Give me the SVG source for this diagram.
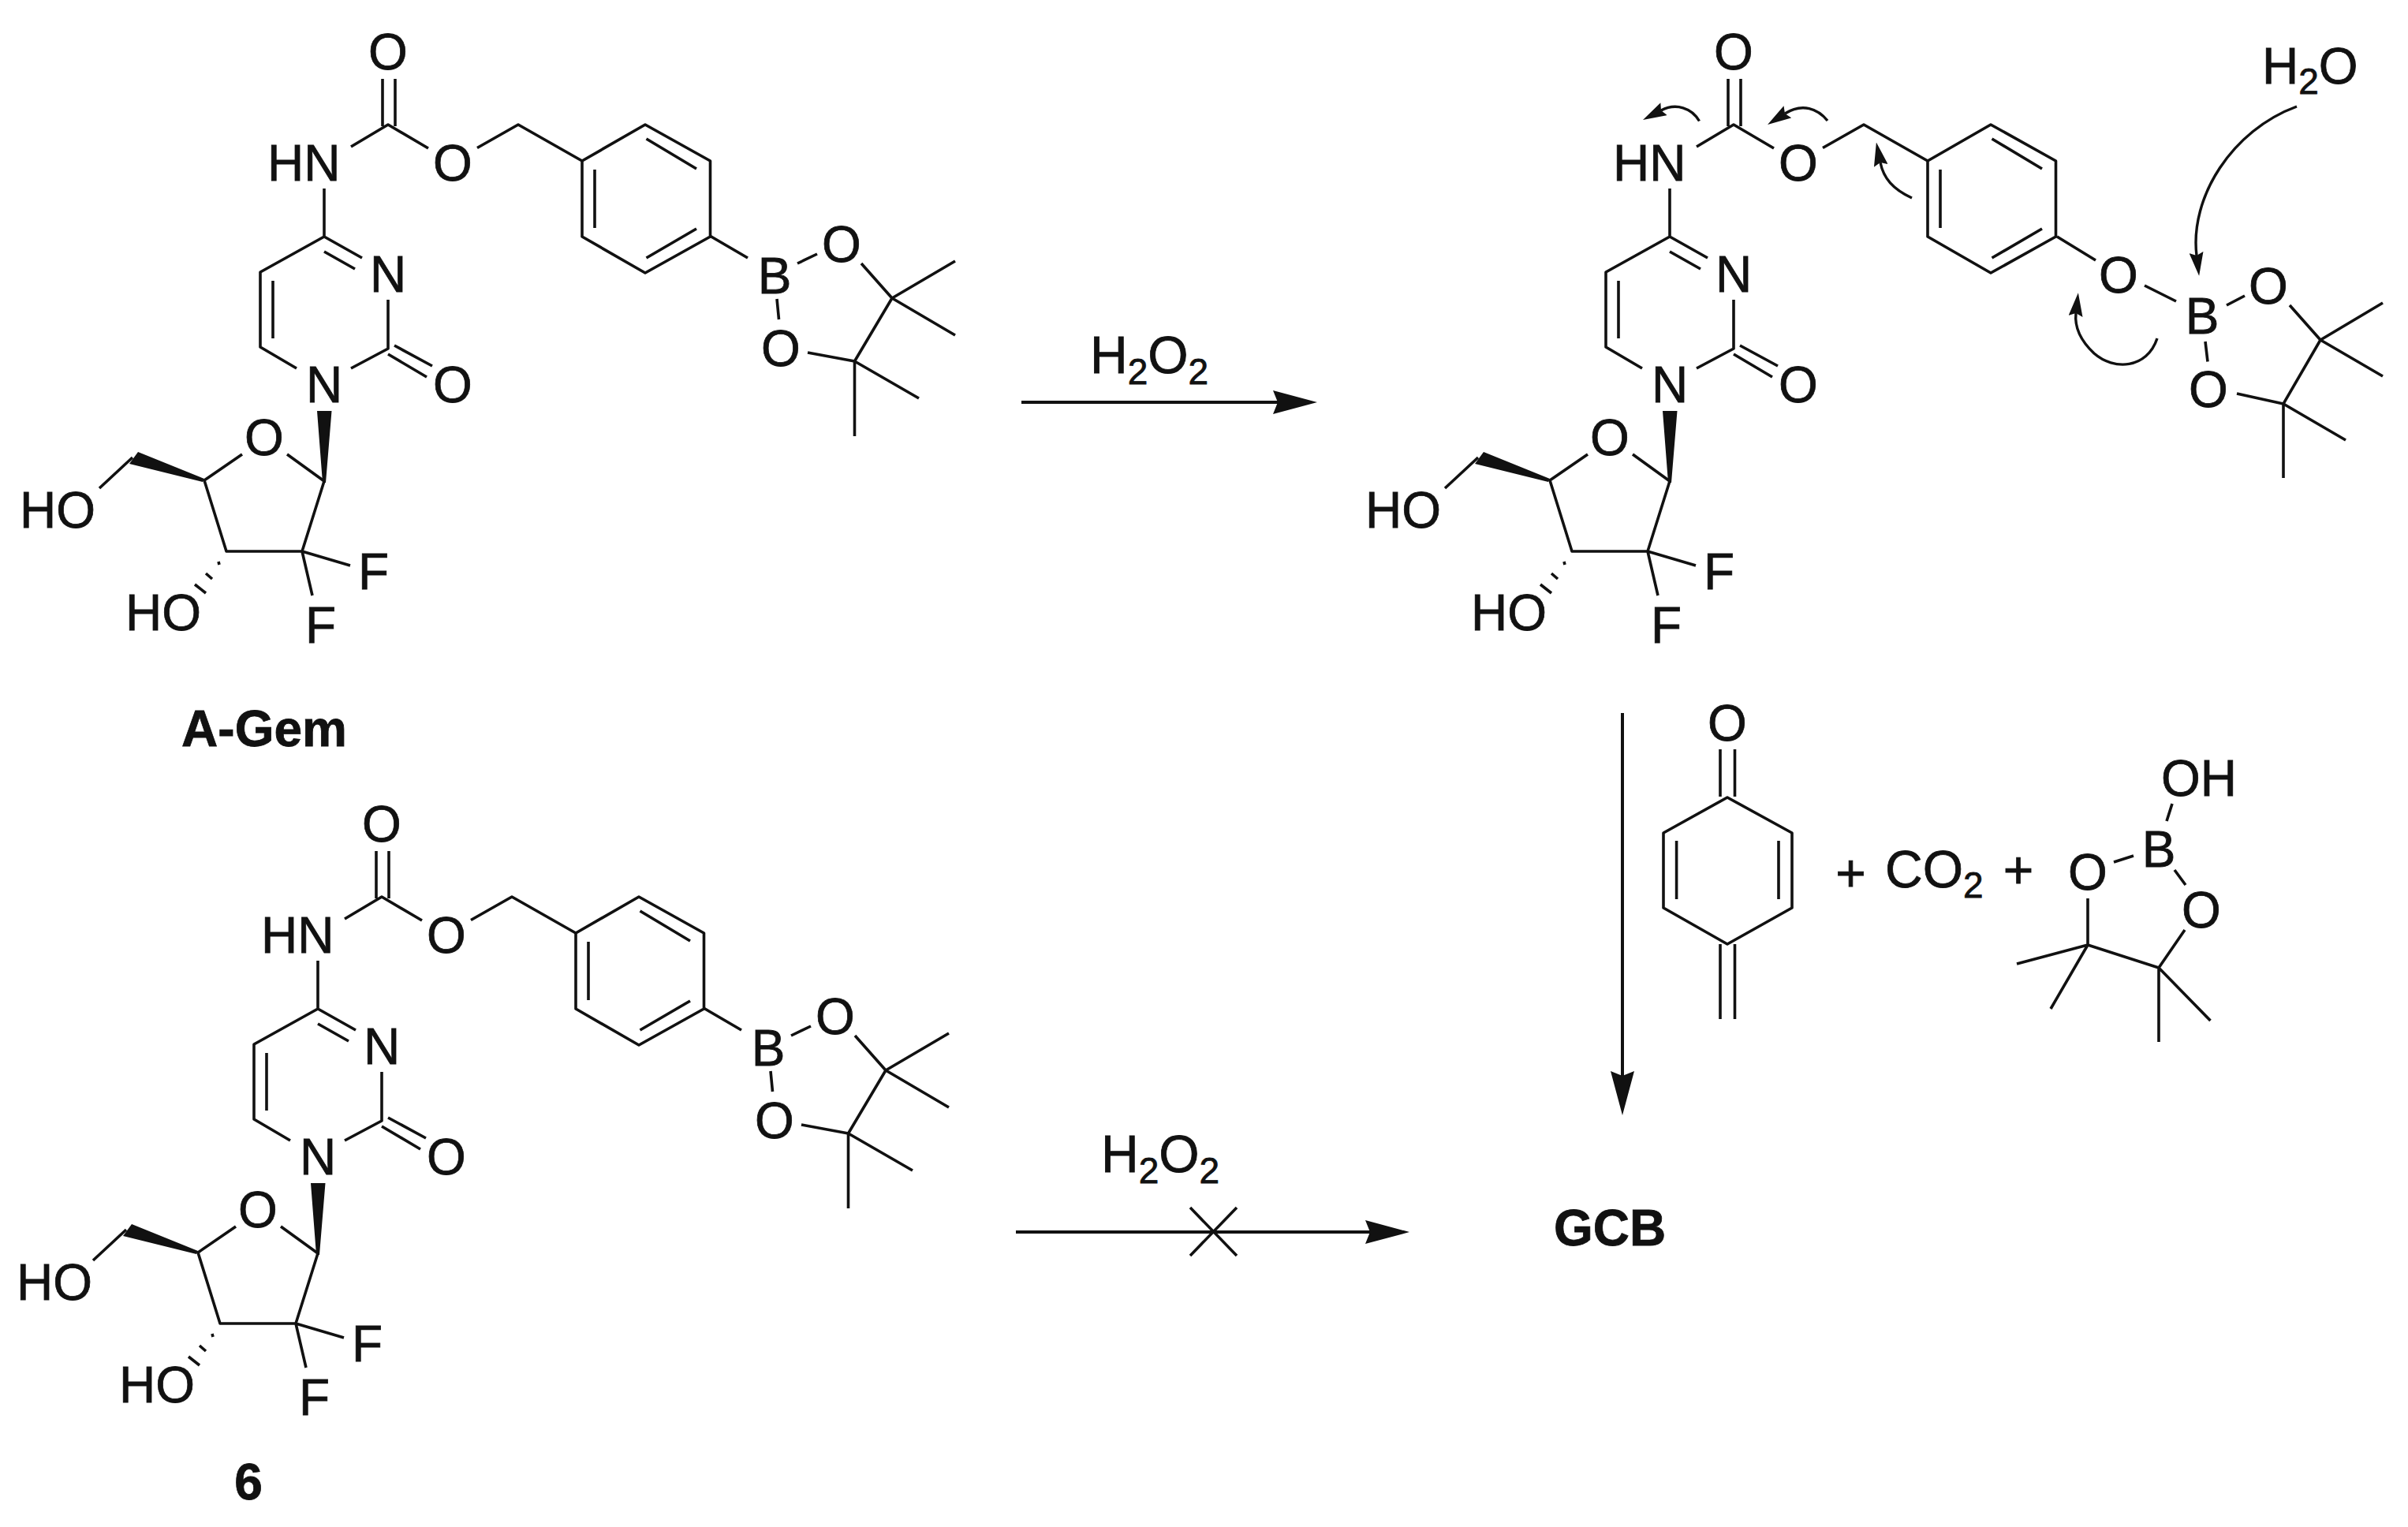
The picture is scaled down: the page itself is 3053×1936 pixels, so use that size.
<svg xmlns="http://www.w3.org/2000/svg" xmlns:xlink="http://www.w3.org/1999/xlink" width="3053" height="1936" viewBox="0 0 3053 1936">
<style>
.b{fill:none;stroke:#111;stroke-width:3.6;stroke-linejoin:round}
.w{fill:#111;stroke:none}
text{font-family:"Liberation Sans",Arial,sans-serif;fill:#111;stroke:#111;stroke-width:.8}
.t{font-size:64px}
.m{text-anchor:middle}
.l{font-size:66px}
.s{font-size:46px}
.lb{font-size:64px;font-weight:bold}
.a{fill:none;stroke:#111;stroke-width:4}
.c{fill:none;stroke:#111;stroke-width:3.4}
</style>
<defs>
<marker id="head" markerUnits="userSpaceOnUse" markerWidth="56" markerHeight="30" refX="6" refY="15" orient="auto"><path d="M0,0L56,15L0,30L6,15Z" fill="#111"/></marker>
<marker id="curl" markerUnits="userSpaceOnUse" markerWidth="30" markerHeight="18" refX="4" refY="9" orient="auto"><path d="M0,0L30,9L0,18L4,9Z" fill="#111"/></marker>
<g id="core">
<path class="b" d="M485,100V160M501,100V160M445,186L492,158L543,188M605,187.5L657,158L738,204L818,158L900.5,204V300L818,346L738,300V204M819.5,176L883,214M754,215V289M819.5,327L883,290M411,239V300L330,345V440L376,467M411,300L459,327M411,319L450,341M492,380V442L445,467M500,438L548,464M492,449L541,478M346,356V429M364,576L411,610L383,699H287L259,609L307,576M126,619L168,580M383,699L444,717M383,699L396,755M277,712L278,716M261,727L269,734M247,741L261,752"/>
<path class="w" d="M402,521H420.5L413,612H409ZM259,607L257,611L164,588L175,573Z"/>
</g>
<g id="pin-ph">
<path class="b" d="M900,299L948,327M1011,334L1036,322M1092,334L1131,378L1211,331M1131,378L1211,425M1131,378L1083.5,458L1024,447M1083.5,458L1165,505M1083.5,458V553M985,379L987.5,405"/>
</g>
</defs>
<g id="connectors">
<path class="a" d="M1295,510H1620" marker-end="url(#head)"/>
<path class="a" d="M1288,1562H1737" marker-end="url(#head)"/>
<path class="a" d="M2057,904V1364" marker-end="url(#head)"/>
<path class="b" d="M1509,1531L1568,1592M1568,1531L1509,1592"/>
<path class="c" d="M2912,135C2830,165 2776,250 2785,324" marker-end="url(#curl)"/>
<path class="c" d="M2735,429C2722,468 2680,470 2655,448C2638,432 2630,415 2632,397" marker-end="url(#curl)"/>
<path class="c" d="M2424,251C2400,240 2388,226 2384,206" marker-end="url(#curl)"/>
<path class="c" d="M2317,153C2305,138 2285,130 2263,144" marker-end="url(#curl)"/>
<path class="c" d="M2154.5,153.5C2145,137 2125,130 2106,140" marker-end="url(#curl)"/>
</g>
<g id="A-Gem">
<use href="#core"/><use href="#pin-ph"/>
<text class="t m" x="492" y="88">O</text>
<text class="t" x="339" y="229">HN</text>
<text class="t m" x="574" y="229">O</text>
<text class="t m" x="492" y="370">N</text>
<text class="t m" x="411" y="510">N</text>
<text class="t m" x="574" y="510">O</text>
<text class="t m" x="335" y="577">O</text>
<text class="t" x="25" y="669">HO</text>
<text class="t" x="159" y="799">HO</text>
<text class="t" x="454" y="747">F</text>
<text class="t" x="387" y="815">F</text>
<text class="t m" x="982" y="372">B</text>
<text class="t m" x="1067" y="332">O</text>
<text class="t m" x="990" y="464">O</text>
<text class="lb m" x="335" y="946">A-Gem</text>
</g>
<g id="compound-6" transform="translate(-8,979)">
<use href="#core"/><use href="#pin-ph"/>
<text class="t m" x="492" y="88">O</text>
<text class="t" x="339" y="229">HN</text>
<text class="t m" x="574" y="229">O</text>
<text class="t m" x="492" y="370">N</text>
<text class="t m" x="411" y="510">N</text>
<text class="t m" x="574" y="510">O</text>
<text class="t m" x="335" y="577">O</text>
<text class="t" x="29" y="669">HO</text>
<text class="t" x="159" y="799">HO</text>
<text class="t" x="454" y="747">F</text>
<text class="t" x="387" y="815">F</text>
<text class="t m" x="982" y="372">B</text>
<text class="t m" x="1067" y="332">O</text>
<text class="t m" x="990" y="464">O</text>
<text class="lb m" x="323" y="922">6</text>
</g>
<g id="intermediate">
<g transform="translate(1706,0)">
<use href="#core"/>
<text class="t m" x="492" y="88">O</text>
<text class="t" x="339" y="229">HN</text>
<text class="t m" x="574" y="229">O</text>
<text class="t m" x="492" y="370">N</text>
<text class="t m" x="411" y="510">N</text>
<text class="t m" x="574" y="510">O</text>
<text class="t m" x="335" y="577">O</text>
<text class="t" x="25" y="669">HO</text>
<text class="t" x="159" y="799">HO</text>
<text class="t" x="454" y="747">F</text>
<text class="t" x="387" y="815">F</text>
</g>
<path class="b" d="M2608,300L2657,330M2719,362L2759,382M2823,387L2846,375M2903,387L2942,431L3021,384M2942,431L3021,477M2942,431L2895,512L2836,499M2895,512L2974,558M2895,512V606M2796,433L2799,458.5"/>
<text class="t m" x="2686" y="371">O</text>
<text class="t m" x="2792" y="423">B</text>
<text class="t m" x="2876" y="385">O</text>
<text class="t m" x="2800" y="516">O</text>
</g>
<g id="water"><text class="t" x="2868" y="106">H<tspan class="s" dy="13">2</tspan><tspan dy="-13">O</tspan></text></g>
<g id="reagent-1"><text class="l" x="1382" y="473">H<tspan class="s" dy="14">2</tspan><tspan dy="-14">O</tspan><tspan class="s" dy="14">2</tspan></text></g>
<g id="reagent-2"><text class="l" x="1396" y="1486">H<tspan class="s" dy="14">2</tspan><tspan dy="-14">O</tspan><tspan class="s" dy="14">2</tspan></text></g>
<g id="GCB"><text class="lb" x="1970" y="1579">GCB</text></g>
<g id="quinone-methide">
<path class="b" d="M2181,950V1010M2199.5,950V1010M2190,1011L2272,1056V1151L2190,1197L2109,1151V1056ZM2125.6,1066V1140M2255,1066V1140M2181,1197V1292M2199.5,1197V1292"/>
<text class="t m" x="2190" y="939">O</text>
</g>
<g id="plus-1"><text class="l m" x="2346.5" y="1130">+</text></g>
<g id="CO2"><text class="l" x="2390" y="1125">CO<tspan class="s" dy="13">2</tspan></text></g>
<g id="plus-2"><text class="l m" x="2559" y="1126">+</text></g>
<g id="pinacol-boronic">
<path class="b" d="M2680,1093L2705,1085M2747,1041L2754,1019M2757,1103L2771,1122M2770,1179L2737,1227L2647,1198V1139M2647,1198L2557,1222M2647,1198L2600,1279M2737,1227L2802.5,1294M2737,1227V1321"/>
<text class="t m" x="2647" y="1128">O</text>
<text class="t m" x="2737" y="1099">B</text>
<text class="t" x="2740" y="1009">OH</text>
<text class="t m" x="2791" y="1176">O</text>
</g>
</svg>
